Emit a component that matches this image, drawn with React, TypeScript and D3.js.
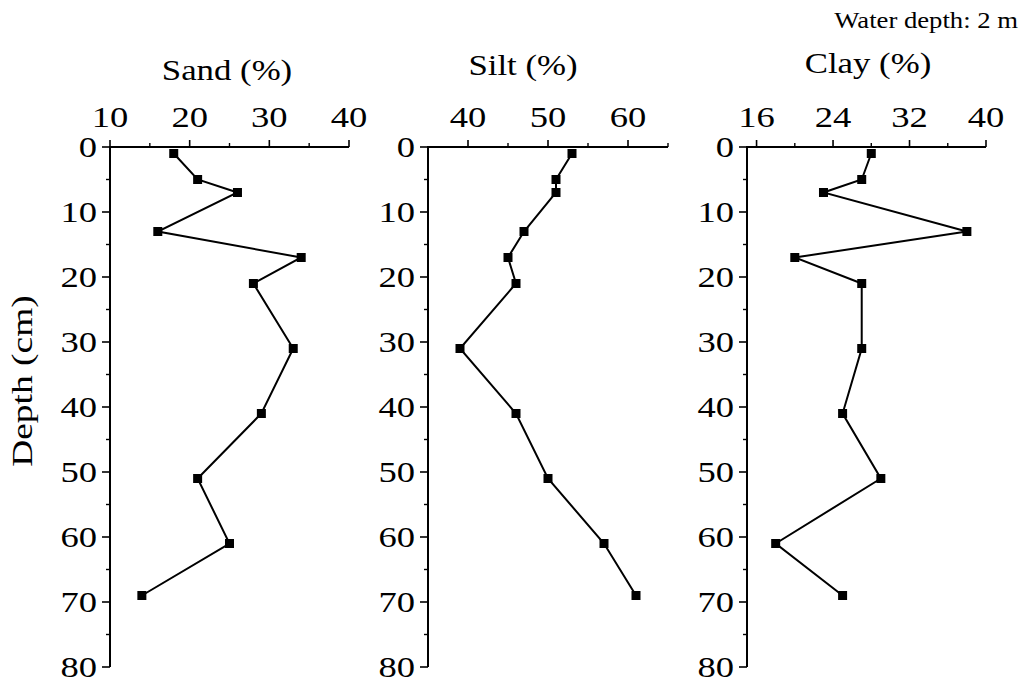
import React from "react";
import * as d3 from "d3";

// Sediment grain-size profile, sampled by depth below the sediment surface
const depthCm = [1, 5, 7, 13, 17, 21, 31, 41, 51, 61, 69];
const sandPct = [18, 21, 26, 16, 34, 28, 33, 29, 21, 25, 14];
const siltPct = [53, 51, 51, 47, 45, 46, 39, 46, 50, 57, 61];
const clayPct = [28, 27, 23, 38, 20, 27, 27, 25, 29, 18, 25];

const depthTicks = [0, 10, 20, 30, 40, 50, 60, 70, 80];
const depthMinor = [5, 15, 25, 35, 45, 55, 65, 75];

const sandTicks = [10, 20, 30, 40];
const sandMinor = [15, 25, 35];
const siltTicks = [40, 50, 60];
const siltMinor = [45, 55, 65];
const clayTicks = [16, 24, 32, 40];
const clayMinor = [20, 28, 36];

const FONT = "Liberation Serif, Times New Roman, Times, serif";

type Panel = {
  title: string;
  values: number[];
  domain: [number, number];
  ticks: number[];
  minor: number[];
  left: number;
  right: number;
  titleX: number;
  titleY: number;
};

const panels: Panel[] = [
  { title: "Sand (%)", values: sandPct, domain: [10, 40], ticks: sandTicks, minor: sandMinor, left: 110, right: 349, titleX: 227, titleY: 80 },
  { title: "Silt (%)", values: siltPct, domain: [35, 65], ticks: siltTicks, minor: siltMinor, left: 428, right: 668, titleX: 523, titleY: 75 },
  { title: "Clay (%)", values: clayPct, domain: [15, 40], ticks: clayTicks, minor: clayMinor, left: 747, right: 986, titleX: 868, titleY: 73 },
];

const TOP = 147;
const BOTTOM = 667;

const y = d3.scaleLinear().domain([0, 80]).range([TOP, BOTTOM]);

function Label({ x, yy, text, size, sx = 1.22, anchor = "middle" }: { x: number; yy: number; text: string; size: number; sx?: number; anchor?: string }) {
  return (
    <text
      transform={`translate(${x},${yy}) scale(${sx},1)`}
      textAnchor={anchor as any}
      style={{ fontFamily: FONT, fontSize: size }}
      fill="#000"
    >
      {text}
    </text>
  );
}

function ProfilePanel({ p }: { p: Panel }) {
  const x = d3.scaleLinear().domain(p.domain).range([p.left, p.right]);
  const pts: [number, number][] = p.values.map((v, i) => [x(v), y(depthCm[i])]);
  const line = d3.line()(pts) ?? "";
  const sq = 9;
  return (
    <g>
      <Label x={p.titleX} yy={p.titleY} text={p.title} size={29} sx={1.2} />
      {/* top value axis */}
      <line x1={p.left} x2={p.right} y1={TOP} y2={TOP} stroke="#000" strokeWidth={2} />
      {p.ticks.map((t) => (
        <g key={"t" + t}>
          <line x1={x(t)} x2={x(t)} y1={TOP} y2={TOP - 7} stroke="#000" strokeWidth={1.6} />
          <Label x={x(t)} yy={TOP - 20} text={String(t)} size={30} />
        </g>
      ))}
      {p.minor.map((t) => (
        <line key={"m" + t} x1={x(t)} x2={x(t)} y1={TOP} y2={TOP - 4} stroke="#000" strokeWidth={1.4} />
      ))}
      {/* left depth axis */}
      <line x1={p.left} x2={p.left} y1={TOP - 1} y2={BOTTOM} stroke="#000" strokeWidth={2} />
      {depthTicks.map((t) => (
        <g key={"d" + t}>
          <line x1={p.left} x2={p.left - 8} y1={y(t)} y2={y(t)} stroke="#000" strokeWidth={1.6} />
          <Label x={p.left - 13} yy={y(t) + 10} text={String(t)} size={30} anchor="end" />
        </g>
      ))}
      {depthMinor.map((t) => (
        <line key={"dm" + t} x1={p.left} x2={p.left - 4} y1={y(t)} y2={y(t)} stroke="#000" strokeWidth={1.4} />
      ))}
      <path d={line} fill="none" stroke="#000" strokeWidth={2} />
      {pts.map(([px, py], i) => (
        <rect key={i} x={px - sq / 2} y={py - sq / 2} width={sq} height={sq} fill="#000" />
      ))}
    </g>
  );
}

export default function App() {
  return (
    <svg
      width={1026}
      height={679}
      viewBox="0 0 1026 679"
      style={{ position: "absolute", left: 0, top: 0, background: "#fff" }}
    >
      <rect width={1026} height={679} fill="#fff" />
      <Label x={1018} yy={28} text="Water depth: 2 m" size={23} sx={1.16} anchor="end" />
      <text
        transform={`translate(32,381) rotate(-90) scale(1.25,1)`}
        textAnchor="middle"
        style={{ fontFamily: FONT, fontSize: 30 }}
        fill="#000"
      >
        Depth (cm)
      </text>
      {panels.map((p) => (
        <ProfilePanel key={p.title} p={p} />
      ))}
    </svg>
  );
}
